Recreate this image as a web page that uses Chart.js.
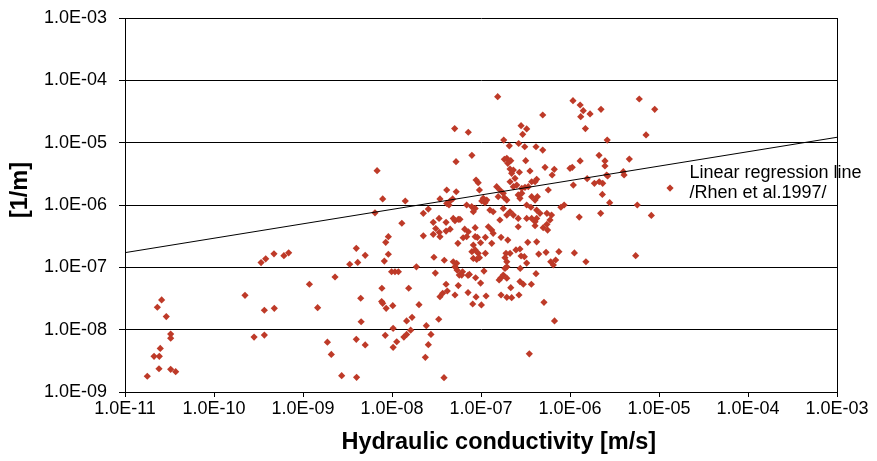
<!DOCTYPE html>
<html>
<head>
<meta charset="utf-8">
<script src="https://cdn.jsdelivr.net/npm/chart.js@4/dist/chart.umd.min.js"></script>
<style>
html, body { margin: 0; padding: 0; background: #fff; }
</style>
</head>
<body>
<canvas id="myChart" width="877" height="461"></canvas>
<script>
// hydraulic conductivity [m/s]
const hydCond = [
  1.78e-11, 2.31e-11, 2.58e-11, 2.91e-11, 3.26e-11, 3.26e-11, 2.49e-11, 2.12e-11, 2.43e-11, 2.41e-11,
  3.26e-11, 3.71e-11, 2.23e-10, 2.82e-10, 3.68e-10, 3.68e-10, 4.76e-10, 3.38e-10, 3.81e-10, 4.72e-10,
  6.1e-10, 6.9e-10,
  1.18e-9, 1.46e-9, 2.29e-9, 1.88e-9, 2.08e-9,
  3.97e-9, 5.0e-9, 3.35e-9, 4.12e-9, 8.5e-9, 9.1e-9, 9.1e-9, 8.2e-9, 9.9e-9, 1.08e-8,
  1.18e-8, 1.88e-8, 2.25e-8, 2.91e-8, 3.1e-8, 3.4e-8, 3.46e-8, 4.05e-8, 4.5e-8, 2.96e-8,
  3.87e-8, 4.88e-8, 5.33e-8, 5.1e-8, 5.4e-8, 5.7e-8, 3.07e-8, 5.5e-8, 4.05e-8, 5.56e-8,
  5.1e-8, 3.46e-8, 3.71e-8, 4.18e-8, 7.7e-9, 1.54e-8, 4.45e-9, 7.65e-9, 7.86e-9, 8.6e-9,
  1.02e-8, 2.01e-8, 4.5e-9, 1.46e-8, 1.68e-8, 1.03e-8, 1.62e-8, 2.43e-8, 3.35e-8, 3.97e-9,
  5.0e-9, 8.4e-9, 1.03e-8, 1.13e-8, 1.36e-8, 1.46e-8, 2.74e-8, 2.56e-8, 2.37e-8, 2.72e-9,
  4.0e-9, 3.84e-8,
  7.15e-8, 8.07e-8, 8.8e-8, 1.01e-7, 1.14e-7, 9.9e-8, 8.7e-8, 7.4e-8, 1.08e-7, 6.2e-8,
  6.07e-8, 1.68e-7, 1.95e-7, 2.21e-7, 2.67e-7, 2.16e-7, 2.99e-7, 3.68e-7, 5.1e-7, 6.7e-7,
  3.49e-7, 1.66e-7, 1.78e-7, 1.95e-7, 1.6e-7, 2.76e-7, 4.15e-7, 3.26e-7, 2.82e-7, 3.07e-7,
  2.47e-7, 2.74e-7, 1.91e-7, 2.12e-7, 1.86e-7, 1.95e-7, 1.95e-7, 1.86e-7, 4.45e-7, 5.38e-7,
  7.5e-7, 6.9e-7, 6.07e-7, 6.5e-7, 1.12e-6, 3.35e-7, 4.22e-7, 2.0e-7, 1.68e-7, 1.32e-7,
  1.12e-7, 9.9e-8, 8.6e-8, 9.1e-8, 8.2e-8, 8.6e-8, 9.3e-8, 8.2e-8, 8.95e-8, 9.6e-8,
  6.3e-8, 6.9e-8, 6.56e-8, 7.2e-8, 8.6e-8, 1.21e-7, 1.32e-7, 1.37e-7, 2.62e-7, 4.05e-7,
  5.0e-7, 5.6e-7, 7.9e-8, 7.15e-8, 1.12e-7, 2.74e-7,
  5.06e-8, 5.24e-8, 6.8e-9, 7.86e-9, 1.41e-8, 6.44e-9, 1.29e-8, 4.12e-8, 5.27e-8, 3.46e-8,
  4.8e-8, 4.5e-8, 4.12e-8, 4.37e-8, 2.56e-8, 2.25e-8, 3.38e-8, 2.91e-8, 4.05e-8, 4.88e-8,
  5.1e-8, 5.56e-8,
  1.54e-7, 1.08e-6, 1.3e-6, 4.94e-7, 1.32e-6, 2.82e-7, 3.26e-7, 2.94e-7, 7.2e-8, 1.8e-7,
  2.08e-7, 2.65e-7, 3.1e-7, 4.15e-7, 4.94e-7, 7.9e-8, 1.83e-7, 1.95e-7, 2.16e-7, 2.0e-7,
  3.18e-7, 1.3e-6, 2.12e-7, 2.31e-7, 2.21e-7, 2.7e-7, 3.55e-7, 5.24e-7, 6.66e-7, 1.0e-6,
  1.06e-6, 8.8e-8, 9.3e-8, 9.6e-8, 1.5e-7, 1.63e-7, 1.78e-7, 2.12e-7, 2.41e-7, 2.52e-7,
  2.31e-7, 2.87e-7, 3.12e-7, 3.4e-7, 4.22e-7, 4.05e-7, 6.3e-7, 5.7e-7, 1.09e-6, 3.71e-7,
  1.06e-7, 1.16e-7, 1.11e-7, 1.02e-7, 1.56e-7, 1.83e-7, 1.95e-7, 2.62e-7, 2.87e-7, 2.74e-7,
  3.71e-7, 4.05e-7, 4.3e-7, 3.26e-7, 3.64e-7, 8.6e-7, 7.9e-7, 6.9e-8, 7.86e-8, 8.6e-8,
  8.2e-8, 1.26e-7, 1.37e-7, 1.78e-7, 2.12e-7, 1.95e-7, 4.22e-7, 4.6e-7, 4.22e-7, 3.26e-7,
  3.71e-7, 4.05e-7, 2.31e-7, 2.62e-7, 5.5e-7, 6.2e-7, 5.96e-7, 5.8e-8, 1.27e-6, 1.63e-7,
  5.5e-7,
  6.0e-6, 8.95e-6, 2.23e-6, 1.41e-6, 1.68e-6, 1.49e-6, 7.15e-6, 2.62e-6, 2.12e-6, 2.47e-6,
  2.47e-6, 4.64e-6, 3.97e-6, 4.05e-6, 2.58e-6, 2.65e-6, 1.56e-6, 1.88e-6, 2.13e-6, 2.33e-6,
  1.33e-5, 2.31e-6, 2.79e-6, 5.7e-6, 2.21e-6, 8.2e-6,
  1.51e-6, 5.47e-6
];

// [1/m]
const fracInt = [
  1.79e-9, 2.29e-8, 3.0e-8, 1.62e-8, 8.5e-9, 7.3e-9, 5.0e-9, 3.74e-9, 3.74e-9, 2.36e-9,
  2.31e-9, 2.12e-9, 3.56e-8, 7.6e-9, 2.05e-8, 8.2e-9, 2.2e-8, 1.19e-7, 1.37e-7, 1.65e-7,
  1.54e-7, 1.71e-7,
  5.35e-8, 2.25e-8, 7.0e-8, 6.3e-9, 4.0e-9,
  2.02e-7, 1.56e-7, 1.12e-7, 1.2e-7, 2.52e-7, 3.1e-7, 1.62e-7, 1.26e-7, 8.5e-8, 8.5e-8,
  8.5e-8, 1.02e-7, 3.2e-7, 3.38e-7, 4.2e-7, 3.64e-7, 3.1e-7, 3.82e-7, 4.1e-7, 1.45e-7,
  1.3e-7, 1.23e-7, 1.16e-7, 1.02e-7, 9.0e-8, 7.5e-8, 8.1e-8, 2.43e-7, 5.35e-8, 5.1e-8,
  3.6e-8, 3.38e-8, 3.84e-8, 4.17e-8, 4.62e-8, 4.62e-8, 3.19e-8, 2.82e-8, 2.65e-8, 2.2e-8,
  2.43e-8, 2.52e-8, 1.34e-8, 1.38e-8, 1.58e-8, 1.05e-8, 9.8e-9, 1.16e-8, 1.47e-8, 7.0e-9,
  5.7e-9, 8.1e-9, 5.2e-9, 6.4e-9, 7.6e-9, 8.4e-9, 8.4e-9, 5.75e-9, 3.6e-9, 1.83e-9,
  1.72e-9, 1.7e-9,
  3.93e-8, 2.58e-8, 3.35e-8, 2.49e-8, 3.47e-8, 5.6e-8, 6.8e-8, 7.7e-8, 8.7e-8, 8.5e-8,
  7.5e-8, 3.6e-8, 3.3e-8, 3.26e-8, 3.6e-8, 4.72e-8, 5.35e-8, 5.35e-8, 2.75e-8, 1.38e-8,
  4.1e-9, 6.7e-8, 7.5e-8, 6.7e-8, 6.26e-8, 9.6e-8, 7.9e-8, 1.17e-7, 1.52e-7, 1.48e-7,
  1.9e-7, 1.97e-7, 1.68e-7, 1.68e-7, 1.43e-7, 1.23e-7, 1.02e-7, 9.6e-8, 1.63e-7, 1.74e-7,
  1.78e-7, 1.31e-7, 1.23e-7, 1.09e-7, 1.7e-7, 2.52e-7, 2.57e-7, 2.74e-7, 3.03e-7, 2.43e-7,
  3.03e-7, 2.48e-7, 3.1e-7, 3.03e-7, 2.28e-7, 1.9e-7, 1.68e-7, 1.39e-7, 1.34e-7, 1.43e-7,
  2.98e-7, 3.1e-7, 4.1e-7, 3.72e-7, 4.32e-7, 4.48e-7, 3.96e-7, 3.51e-7, 4.48e-7, 4.65e-7,
  4.32e-7, 3.96e-7, 1.78e-7, 7.45e-8, 1.68e-7, 5.9e-8,
  1.68e-5, 4.95e-6, 3.55e-6, 1.25e-6, 1.16e-6, 7.5e-7, 5.1e-7, 1.74e-6, 1.63e-6, 1.25e-6,
  1.25e-6, 1.16e-6, 1.06e-6, 1.0e-6, 8.6e-7, 7.35e-7, 6.1e-7, 5.27e-7, 5.27e-7, 6.1e-7,
  5.6e-7, 5.9e-7,
  5.46e-5, 4.72e-5, 4.02e-5, 2.78e-5, 2.61e-5, 1.87e-5, 1.66e-5, 1.36e-5, 1.47e-5, 1.1e-5,
  8.9e-6, 9.7e-6, 8.6e-6, 8.6e-6, 7.6e-6, 6.26e-6, 5.4e-6, 5.6e-6, 5.14e-6, 4.67e-6,
  5.14e-6, 5.1e-6, 3.78e-6, 3.64e-6, 3.22e-6, 3.35e-6, 3.51e-6, 4.02e-6, 3.74e-6, 3.88e-6,
  4.02e-6, 2.52e-6, 2.28e-6, 1.74e-6, 1.97e-6, 1.74e-6, 1.54e-6, 2.36e-6, 2.68e-6, 2.09e-6,
  1.97e-6, 1.85e-6, 1.92e-6, 1.97e-6, 2.58e-6, 2.36e-6, 3.03e-6, 1.74e-6, 2.09e-6, 2.36e-6,
  1.28e-6, 1.2e-6, 1.09e-6, 1.16e-6, 1.36e-6, 1.31e-6, 1.2e-6, 1.45e-6, 1.54e-6, 1.28e-6,
  1.36e-6, 1.2e-6, 1.36e-6, 1.0e-6, 9.2e-7, 1.0e-6, 9.2e-7, 1.0e-6, 9.4e-7, 8.8e-7,
  7.8e-7, 8.3e-7, 7.8e-7, 8.8e-7, 7.8e-7, 6.9e-7, 8.3e-7, 7.35e-7, 6.1e-7, 6.1e-7,
  6.1e-7, 5.4e-7, 6.9e-7, 6.1e-7, 7.35e-7, 6.9e-7, 5.75e-7, 5.9e-7, 6.4e-7, 5.75e-7,
  4.9e-7,
  5.02e-5, 3.43e-5, 3.43e-5, 3.26e-5, 2.89e-5, 1.68e-5, 1.33e-5, 1.1e-5, 6.26e-6, 5.1e-6,
  4.22e-6, 5.46e-6, 3.42e-6, 3.03e-6, 3.03e-6, 2.92e-6, 2.64e-6, 2.23e-6, 2.36e-6, 2.23e-6,
  1.87e-6, 1.48e-6, 1.09e-6, 1.0e-6, 7.35e-7, 6.8e-7,
  1.23e-7, 1.54e-7
];

// regression line /Rhen et al.1997/
const regK = [1e-11, 1e-3];
const regI = [1.72e-7, 1.22e-5];

const xTicks = [1e-11, 1e-10, 1e-9, 1e-8, 1e-7, 1e-6, 1e-5, 1e-4, 1e-3];
const yTicks = [1e-9, 1e-8, 1e-7, 1e-6, 1e-5, 1e-4, 1e-3];

const xTitle = 'Hydraulic conductivity [m/s]';
const yTitle = '[1/m]';
const noteText = ['Linear regression line', '/Rhen et al.1997/'];
const noteK = 2.2e-5;
const noteI = [3.26e-6, 1.56e-6];

function expLabel(v) {
  const e = Math.round(Math.log10(v));
  return '1.0E' + (e < 0 ? '-' : '+') + String(Math.abs(e)).padStart(2, '0');
}

const FAMILY = '"Liberation Sans", Arial, sans-serif';

// note next to the regression line, and the two axis titles
const textPlugin = {
  id: 'texts',
  afterDraw(chart) {
    const {ctx, scales, chartArea} = chart;
    ctx.save();
    ctx.fillStyle = '#000';
    ctx.textBaseline = 'middle';
    ctx.font = '18px ' + FAMILY;
    noteText.forEach((t, i) => {
      ctx.fillText(t, scales.x.getPixelForValue(noteK), scales.y.getPixelForValue(noteI[i]));
    });

    ctx.font = 'bold 23.5px ' + FAMILY;
    ctx.textAlign = 'center';
    ctx.fillText(xTitle, chartArea.left + chartArea.width * 0.525, chart.height - 18);

    ctx.translate(21, chartArea.top + chartArea.height * 0.46);
    ctx.rotate(-Math.PI / 2);
    ctx.fillText(yTitle, 0, 0);
    ctx.restore();
  }
};

const tickFont = { family: FAMILY, size: 18 };

const ctx = document.getElementById('myChart').getContext('2d');

const myChart = new Chart(ctx, {
  type: 'scatter',
  data: {
    datasets: [
      {
        label: 'Linear regression line',
        data: regK.map((k, i) => ({ x: k, y: regI[i] })),
        showLine: true,
        borderColor: '#000',
        borderWidth: 1,
        pointRadius: 0
      },
      {
        label: 'Data',
        data: hydCond.map((k, i) => ({ x: k, y: fracInt[i] })),
        pointStyle: 'rectRot',
        pointRadius: 3.6,
        backgroundColor: '#BE3A28',
        borderColor: '#BE3A28',
        borderWidth: 0
      }
    ]
  },
  options: {
    responsive: false,
    animation: false,
    layout: { padding: { left: 0, right: 40, top: 18, bottom: 0 } },
    plugins: {
      legend: { display: false },
      tooltip: { enabled: false }
    },
    scales: {
      x: {
        type: 'logarithmic',
        min: 1e-11,
        max: 1e-3,
        afterBuildTicks: s => { s.ticks = xTicks.map(v => ({ value: v })); },
        afterFit: s => { s.height = 69; s.paddingLeft = 0; s.paddingRight = 0; },
        ticks: {
          callback: v => expLabel(v),
          font: tickFont,
          color: '#000',
          autoSkip: false,
          maxRotation: 0,
          padding: 1
        },
        grid: {
          color: c => (c.index === xTicks.length - 1 ? '#000' : 'rgba(0,0,0,0)'),
          tickColor: '#000',
          tickLength: 5
        },
        border: { color: '#000', width: 1 }
      },
      y: {
        type: 'logarithmic',
        min: 1e-9,
        max: 1e-3,
        afterBuildTicks: s => { s.ticks = yTicks.map(v => ({ value: v })); },
        afterFit: s => { s.width = 125; s.paddingTop = 0; s.paddingBottom = 0; },
        ticks: {
          callback: v => expLabel(v),
          font: tickFont,
          color: '#000',
          autoSkip: false,
          padding: 12
        },
        grid: {
          color: '#000',
          tickColor: '#000',
          tickLength: 6
        },
        border: { color: '#000', width: 1 }
      }
    }
  },
  plugins: [textPlugin]
});
</script>
</body>
</html>
